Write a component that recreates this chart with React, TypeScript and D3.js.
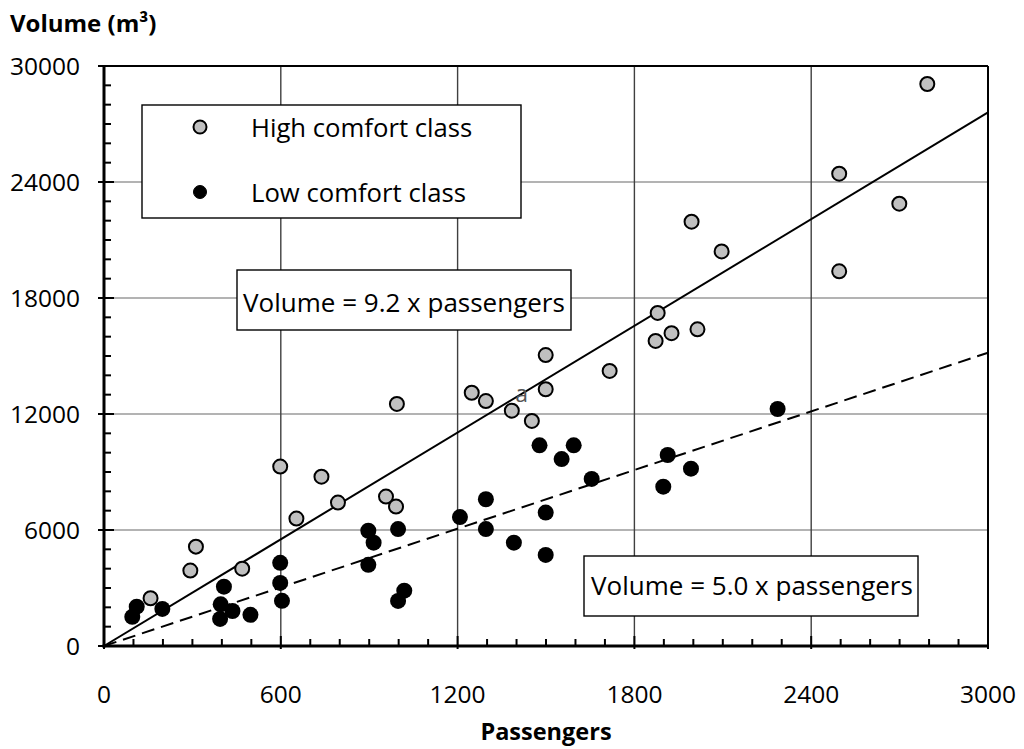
import React, { useEffect, useRef } from 'react';
import * as d3 from 'd3';

// passengers, volume (m3)
const highComfort: [number, number][] = [
  [158, 2470], [293, 3900], [312, 5140], [469, 4000], [598, 9280], [653, 6590],
  [738, 8760], [794, 7420], [957, 7730], [991, 7210], [994, 12520], [1248, 13100],
  [1296, 12670], [1384, 12170], [1452, 11640], [1499, 15050], [1499, 13280],
  [1716, 14230], [1872, 15780], [1879, 17230], [1926, 16180], [2014, 16380],
  [1994, 21950], [2096, 20410], [2495, 24430], [2495, 19380], [2699, 22880], [2794, 29070],
];

const lowComfort: [number, number][] = [
  [96, 1510], [111, 2035], [198, 1920], [394, 1400], [396, 2155], [407, 3070],
  [436, 1810], [497, 1610], [598, 4300], [598, 3265], [604, 2335], [897, 5960],
  [915, 5345], [897, 4200], [998, 6050], [998, 2330], [1019, 2860], [1208, 6670],
  [1296, 7590], [1296, 6050], [1391, 5345], [1499, 6900], [1499, 4710], [1478, 10380],
  [1553, 9670], [1594, 10380], [1655, 8640], [1898, 8240], [1913, 9880], [1992, 9170],
  [2286, 12260],
];

const highFit: [number, number][] = [[0, 0], [3000, 27600]];
const lowFit: [number, number][] = [[0, 0], [3000, 15170]];

const xTicks = [0, 600, 1200, 1800, 2400, 3000];
const yTicks = [0, 6000, 12000, 18000, 24000, 30000];
const legendItems = ['High comfort class', 'Low comfort class'];
const highEquation = 'Volume = 9.2 x passengers';
const lowEquation = 'Volume = 5.0 x passengers';

const W = 1024;
const H = 749;
const FONT = '"Open Sans", "Noto Sans", sans-serif';

const App: React.FC = () => {
  const svgRef = useRef<SVGSVGElement>(null);

  useEffect(() => {
    if (!svgRef.current) return;
    const svg = d3.select(svgRef.current);
    svg.selectAll('*').remove();

    const x = d3.scaleLinear().domain([0, 3000]).range([104, 988]);
    const y = d3.scaleLinear().domain([0, 30000]).range([646, 66]);

    // grid
    const grid = svg.append('g');
    grid.selectAll('.hgrid')
      .data(yTicks.slice(1, -1))
      .enter().append('line')
      .attr('x1', x(0)).attr('x2', x(3000))
      .attr('y1', d => y(d)).attr('y2', d => y(d))
      .attr('stroke', '#9a9a9a').attr('stroke-width', 1.4);
    grid.selectAll('.vgrid')
      .data(xTicks.slice(1, -1))
      .enter().append('line')
      .attr('x1', d => x(d)).attr('x2', d => x(d))
      .attr('y1', y(0)).attr('y2', y(30000))
      .attr('stroke', '#404040').attr('stroke-width', 1.4);

    // boxes (legend + equations)
    const boxes = svg.append('g');
    boxes.append('rect')
      .attr('x', 142).attr('y', 105).attr('width', 379).attr('height', 113)
      .attr('fill', '#fff').attr('stroke', '#000').attr('stroke-width', 1.4);
    legendItems.forEach((label, i) => {
      const cy = 127 + i * 65;
      boxes.append('circle')
        .attr('cx', 200).attr('cy', cy).attr('r', 6.5)
        .attr('fill', i === 0 ? '#c0c0c0' : '#000')
        .attr('stroke', '#000').attr('stroke-width', i === 0 ? 2 : 1);
      boxes.append('text')
        .attr('x', 251).attr('y', cy + 10)
        .attr('font-family', FONT).attr('font-size', 25.7)
        .attr('fill', '#000')
        .text(label);
    });

    boxes.append('rect')
      .attr('x', 237).attr('y', 270).attr('width', 334).attr('height', 60)
      .attr('fill', '#fff').attr('stroke', '#000').attr('stroke-width', 1.4);
    boxes.append('text')
      .attr('x', 404).attr('y', 312).attr('text-anchor', 'middle')
      .attr('font-family', FONT).attr('font-size', 26)
      .text(highEquation);

    boxes.append('rect')
      .attr('x', 584).attr('y', 556).attr('width', 334).attr('height', 60)
      .attr('fill', '#fff').attr('stroke', '#000').attr('stroke-width', 1.4);
    boxes.append('text')
      .attr('x', 752).attr('y', 595).attr('text-anchor', 'middle')
      .attr('font-family', FONT).attr('font-size', 26)
      .text(lowEquation);

    // fit lines
    const line = d3.line<[number, number]>().x(d => x(d[0])).y(d => y(d[1]));
    svg.append('path')
      .attr('d', line(highFit))
      .attr('fill', 'none').attr('stroke', '#000').attr('stroke-width', 2);
    svg.append('path')
      .attr('d', line(lowFit))
      .attr('fill', 'none').attr('stroke', '#000').attr('stroke-width', 2)
      .attr('stroke-dasharray', '13,7');

    // stray label
    svg.append('text')
      .attr('x', x(1417)).attr('y', y(12640)).attr('text-anchor', 'middle')
      .attr('font-family', FONT).attr('font-size', 23).attr('fill', '#555')
      .text('a');

    // points
    svg.append('g').selectAll('circle')
      .data(highComfort)
      .enter().append('circle')
      .attr('cx', d => x(d[0])).attr('cy', d => y(d[1])).attr('r', 7)
      .attr('fill', '#c0c0c0').attr('stroke', '#000').attr('stroke-width', 2);
    svg.append('g').selectAll('circle')
      .data(lowComfort)
      .enter().append('circle')
      .attr('cx', d => x(d[0])).attr('cy', d => y(d[1])).attr('r', 8)
      .attr('fill', '#000');

    // frame
    const axes = svg.append('g').attr('stroke', '#000');
    axes.append('line')
      .attr('x1', x(0)).attr('x2', x(3000)).attr('y1', y(30000)).attr('y2', y(30000))
      .attr('stroke-width', 2);
    axes.append('line')
      .attr('x1', x(3000)).attr('x2', x(3000)).attr('y1', y(0)).attr('y2', y(30000))
      .attr('stroke-width', 2);
    axes.append('line')
      .attr('x1', x(0)).attr('x2', x(0)).attr('y1', y(0) + 1.5).attr('y2', y(30000) - 1)
      .attr('stroke-width', 3);
    axes.append('line')
      .attr('x1', x(0) - 1.5).attr('x2', x(3000) + 1).attr('y1', y(0)).attr('y2', y(0))
      .attr('stroke-width', 3);

    // minor ticks
    const xMinor = d3.range(100, 3000, 100).filter(v => v % 600 !== 0);
    const yMinor = d3.range(1000, 30000, 1000).filter(v => v % 6000 !== 0);
    axes.selectAll('.xminor')
      .data(xMinor).enter().append('line')
      .attr('x1', d => x(d)).attr('x2', d => x(d))
      .attr('y1', y(0)).attr('y2', y(0) - 7)
      .attr('stroke-width', 2);
    axes.selectAll('.yminor')
      .data(yMinor).enter().append('line')
      .attr('x1', x(0)).attr('x2', x(0) + 7)
      .attr('y1', d => y(d)).attr('y2', d => y(d))
      .attr('stroke-width', 2);
    // major ticks
    axes.selectAll('.xmajor')
      .data(xTicks).enter().append('line')
      .attr('x1', d => x(d)).attr('x2', d => x(d))
      .attr('y1', y(0) + 3).attr('y2', y(0) - 10)
      .attr('stroke-width', 2);
    axes.selectAll('.ymajor')
      .data(yTicks).enter().append('line')
      .attr('x1', x(0) - 6).attr('x2', x(0) + 10)
      .attr('y1', d => y(d)).attr('y2', d => y(d))
      .attr('stroke-width', 2);

    // tick labels
    svg.append('g').selectAll('text')
      .data(xTicks).enter().append('text')
      .attr('x', d => x(d)).attr('y', 703)
      .attr('text-anchor', 'middle')
      .attr('font-family', FONT).attr('font-size', 24.5)
      .text(d => String(d));
    svg.append('g').selectAll('text')
      .data(yTicks).enter().append('text')
      .attr('x', 80).attr('y', d => y(d)).attr('dy', '0.36em')
      .attr('text-anchor', 'end')
      .attr('font-family', FONT).attr('font-size', 24.5)
      .text(d => String(d));

    // axis titles
    svg.append('text')
      .attr('x', 10).attr('y', 32)
      .attr('font-family', FONT).attr('font-size', 24).attr('font-weight', 'bold')
      .text('Volume (m³)');
    svg.append('text')
      .attr('x', x(1500)).attr('y', 740).attr('text-anchor', 'middle')
      .attr('font-family', FONT).attr('font-size', 23.5).attr('font-weight', 'bold')
      .text('Passengers');
  }, []);

  return (
    <div style={{ position: 'absolute', left: 0, top: 0, width: W, height: H, background: '#fff' }}>
      <svg ref={svgRef} width={W} height={H} viewBox={`0 0 ${W} ${H}`} style={{ display: 'block' }} />
    </div>
  );
};

export default App;
